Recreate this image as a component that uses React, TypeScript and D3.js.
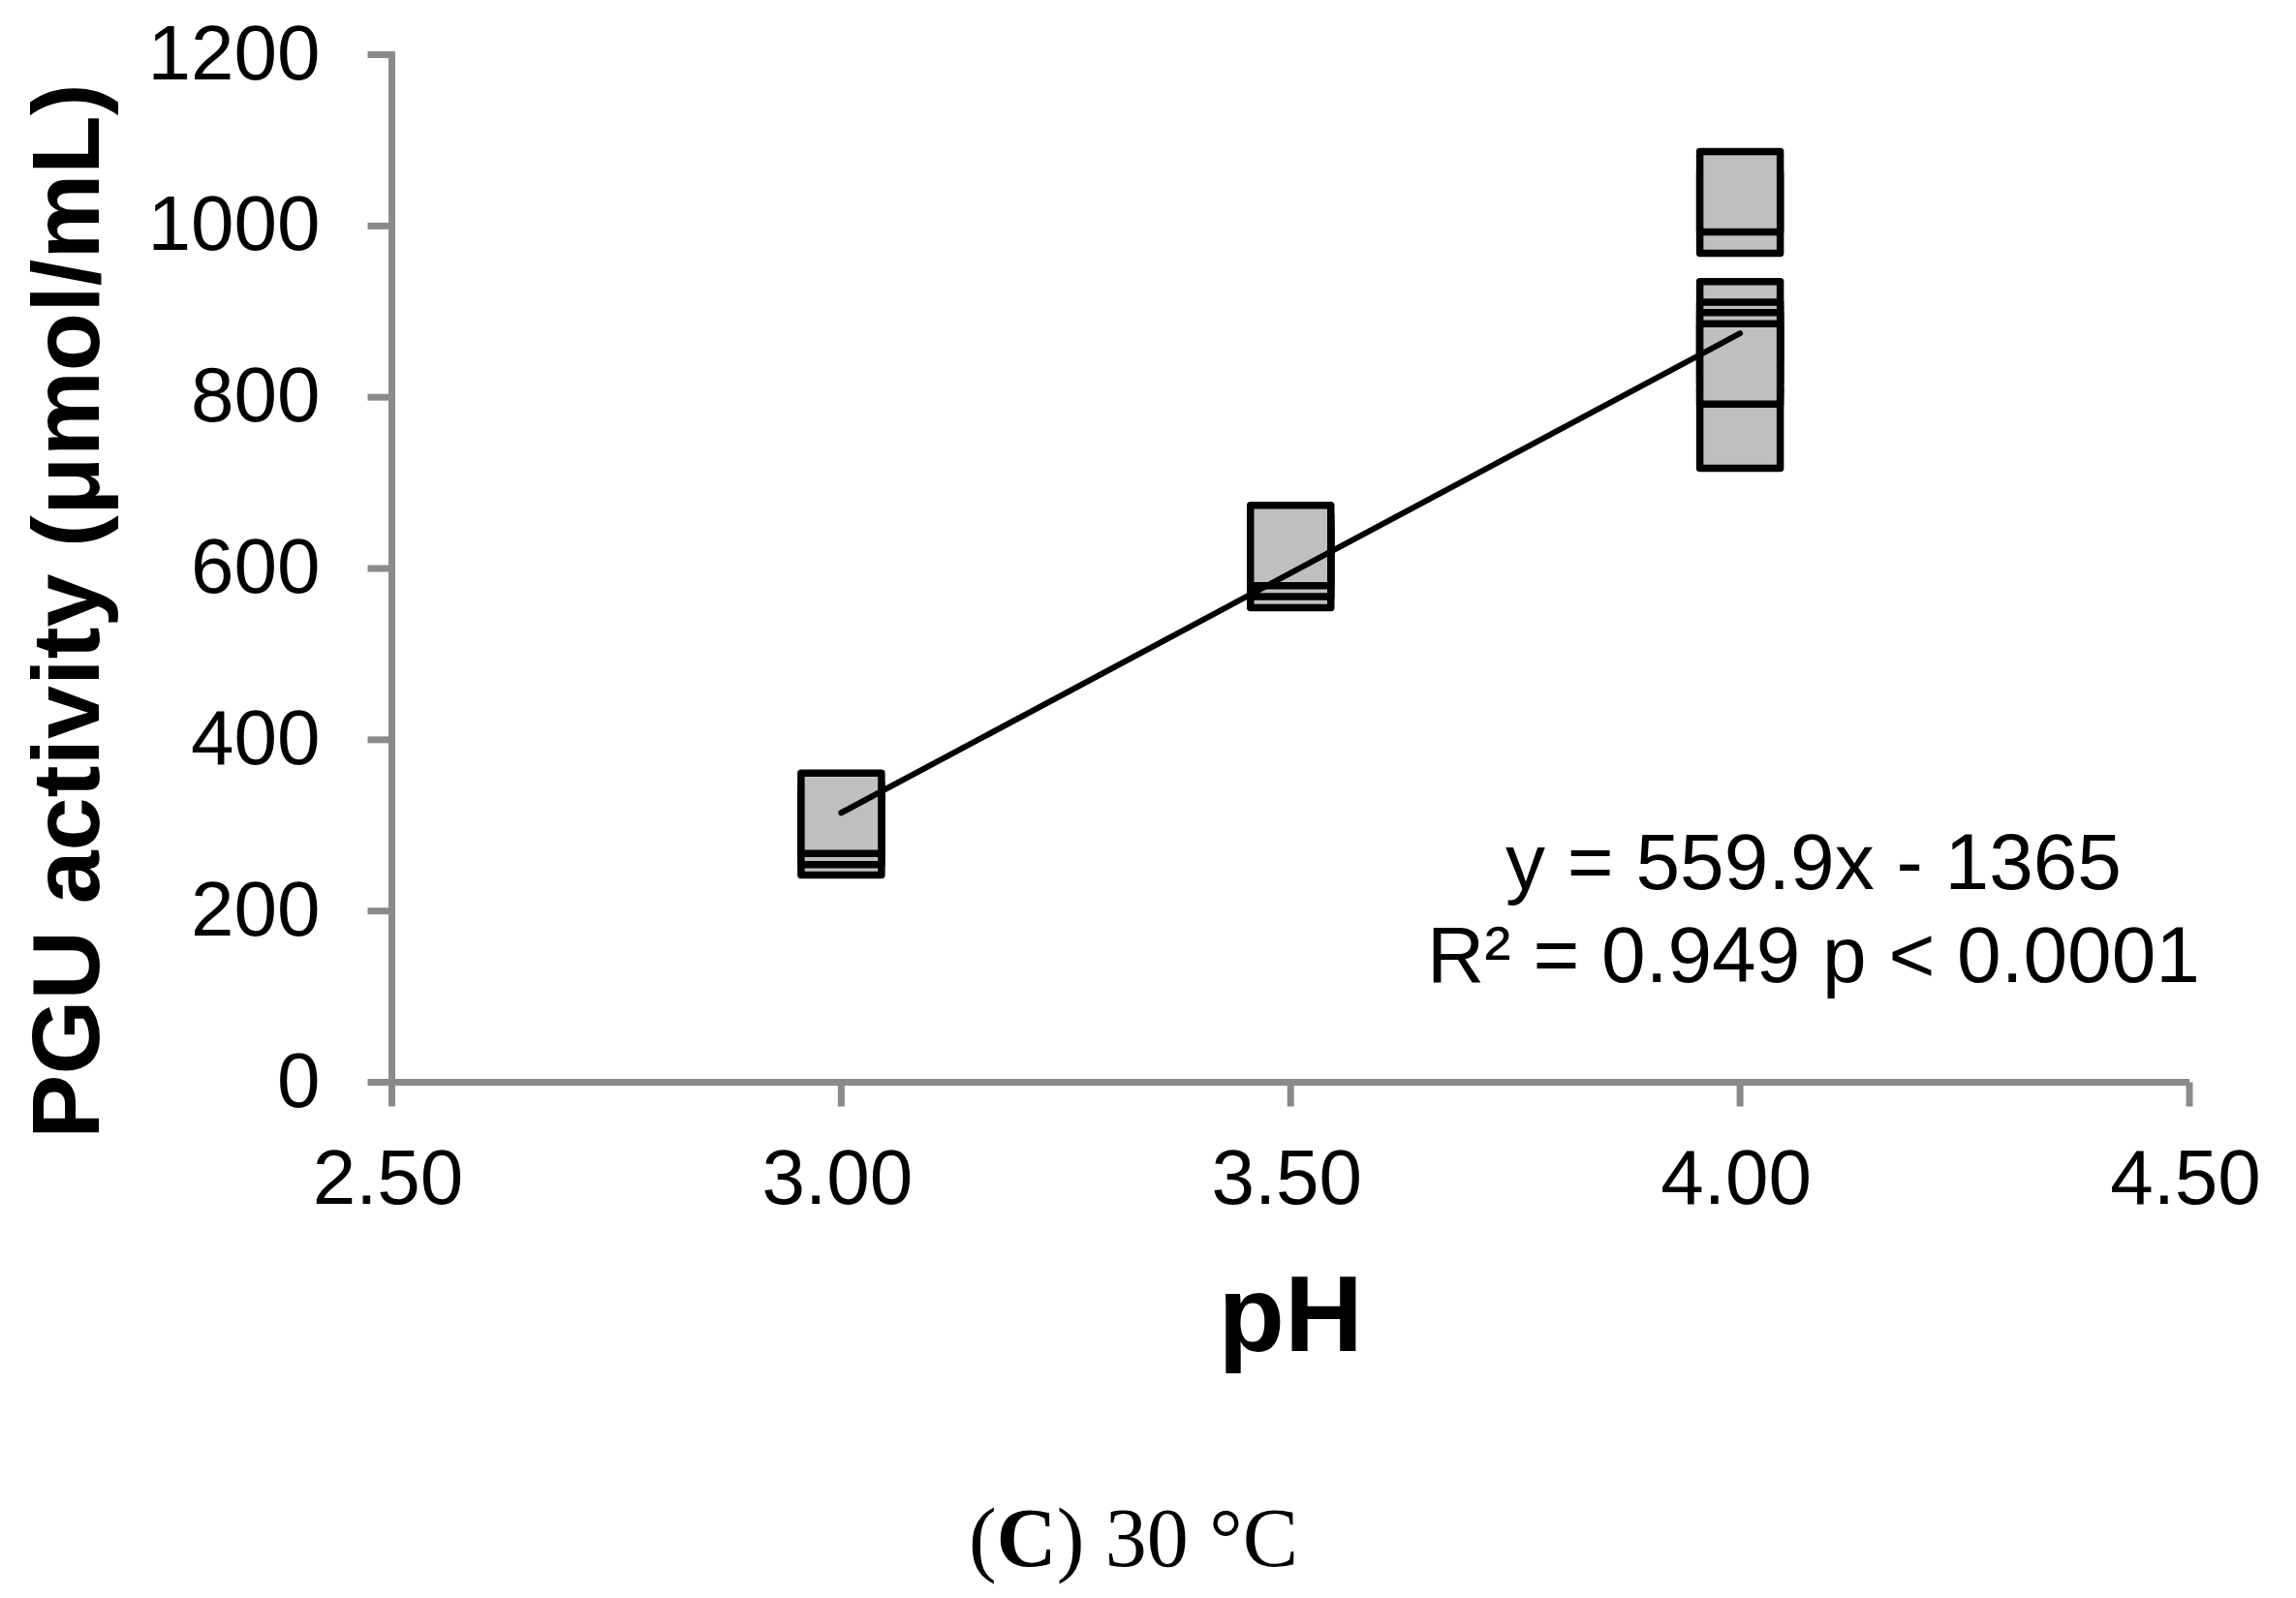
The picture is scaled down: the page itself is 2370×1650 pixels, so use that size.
import React from 'react';
import * as d3 from 'd3';

// replicate measurements, listed in the order they are drawn
const phLevels = [3.0, 3.0, 3.0, 3.5, 3.5, 3.5, 4.0, 4.0, 4.0, 4.0, 4.0, 4.0, 4.0];
const pguActivity = [289, 301, 314, 601, 614, 627, 1015, 1040, 764, 888, 864, 852, 839];

const xTicks = [2.5, 3.0, 3.5, 4.0, 4.5];
const yTicks = [0, 200, 400, 600, 800, 1000, 1200];

// linear trendline y = slope * x + intercept
const trendSlope = 559.9;
const trendIntercept = -1365;
const trendRange = [3.0, 4.0];

const equationLines = ['y = 559.9x - 1365', 'R² = 0.949 p < 0.0001'];

const WIDTH = 2370;
const HEIGHT = 1650;
const SANS = '"Liberation Sans", Arial, sans-serif';
const SERIF = '"Liberation Serif", "Times New Roman", serif';
const AXIS_COLOR = '#8a8a8a';
const MARKER_SIZE = 83;

const x = d3.scaleLinear().domain([2.5, 4.5]).range([404.5, 2260]);
const y = d3.scaleLinear().domain([0, 1200]).range([1117.5, 56.5]);

const App: React.FC = () => {
  document.body.style.margin = '0';

  const points = phLevels.map((ph, i) => ({ ph, value: pguActivity[i] }));
  const trend = d3
    .line<number>()
    .x((d) => x(d))
    .y((d) => y(trendSlope * d + trendIntercept));

  return (
    <svg width={WIDTH} height={HEIGHT} style={{ display: 'block', background: '#fff' }}>
      {/* axes */}
      <g stroke={AXIS_COLOR} strokeWidth={7} fill="none">
        <line x1={x(2.5)} x2={x(2.5)} y1={y(1200) - 3.5} y2={y(0)} />
        <line x1={x(2.5)} x2={x(4.5)} y1={y(0)} y2={y(0)} />
        {yTicks.map((t) => (
          <line key={'yt' + t} x1={x(2.5) - 25} x2={x(2.5)} y1={y(t)} y2={y(t)} />
        ))}
        {xTicks.map((t) => (
          <line key={'xt' + t} x1={x(t)} x2={x(t)} y1={y(0)} y2={y(0) + 25} />
        ))}
      </g>

      <g fontFamily={SANS} fontSize={80} fill="#000">
        {yTicks.map((t) => (
          <text key={'yl' + t} x={x(2.5) - 74} y={y(t) + 25} textAnchor="end">
            {t}
          </text>
        ))}
        {xTicks.map((t) => (
          <text key={'xl' + t} x={x(t) - 4} y={y(0) + 125} textAnchor="middle">
            {t.toFixed(2)}
          </text>
        ))}
      </g>

      {/* markers */}
      <g>
        {points.map((p, i) => (
          <rect
            key={i}
            x={x(p.ph) - MARKER_SIZE / 2}
            y={y(p.value) - MARKER_SIZE / 2}
            width={MARKER_SIZE}
            height={MARKER_SIZE}
            fill="#bfbfbf"
            stroke="#000"
            strokeWidth={7.5}
            strokeLinejoin="round"
          />
        ))}
      </g>

      {/* trendline */}
      <path
        d={trend(trendRange) || ''}
        fill="none"
        stroke="#000"
        strokeWidth={6}
        strokeLinecap="round"
      />

      <g fontFamily={SANS} fontSize={82} fill="#000" textAnchor="middle">
        {equationLines.map((line, i) => (
          <text key={i} x={1872} y={918 + i * 96}>
            {line}
          </text>
        ))}
      </g>

      {/* axis titles */}
      <text
        transform="translate(102, 631) rotate(-90)"
        textAnchor="middle"
        fontFamily={SANS}
        fontWeight="bold"
        fontSize={99}
      >
        PGU activity (μmol/mL)
      </text>
      <text
        x={x(3.5)}
        y={1395}
        textAnchor="middle"
        fontFamily={SANS}
        fontWeight="bold"
        fontSize={112}
      >
        pH
      </text>

      <text x={1170} y={1617} textAnchor="middle" fontFamily={SERIF} fontSize={86}>
        (<tspan fontWeight="bold">C</tspan>) 30 °C
      </text>
    </svg>
  );
};

export default App;
